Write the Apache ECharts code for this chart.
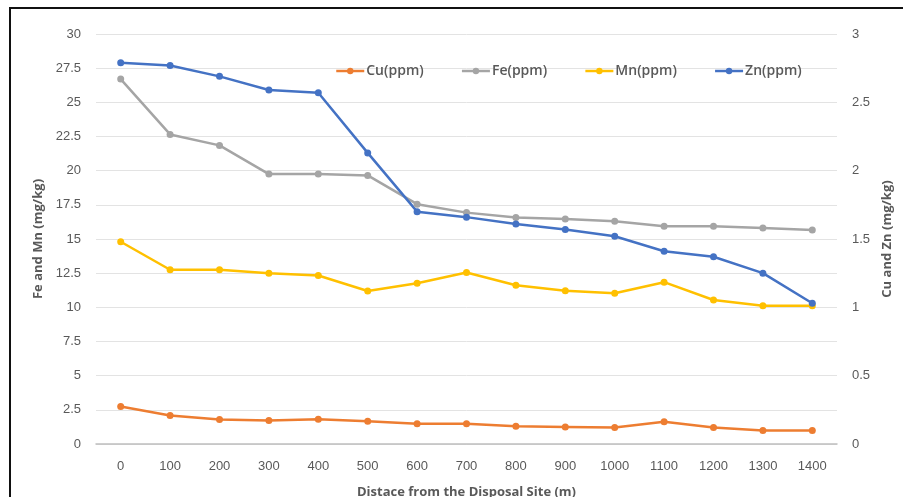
<!DOCTYPE html>
<html>
<head>
<meta charset="utf-8">
<script src="https://cdn.jsdelivr.net/npm/echarts@6/dist/echarts.min.js"></script>
<style>
  html, body { margin: 0; padding: 0; background: #fff; }
  #chart { width: 903px; height: 497px; }
  #frame {
    position: absolute; left: 9px; top: 7px; width: 900px; height: 500px;
    border-left: 2px solid #111; border-top: 2px solid #111;
    pointer-events: none;
  }
</style>
</head>
<body>
<div id="chart"></div>
<div id="frame"></div>
<script>
// Distance from the disposal site (m)
const distances = ['0', '100', '200', '300', '400', '500', '600', '700', '800', '900', '1000', '1100', '1200', '1300', '1400'];

// Right axis (Cu and Zn, mg/kg)
const cu = [0.275, 0.208, 0.180, 0.172, 0.182, 0.167, 0.148, 0.148, 0.130, 0.125, 0.120, 0.163, 0.120, 0.099, 0.098];
const zn = [2.79, 2.77, 2.69, 2.59, 2.57, 2.13, 1.70, 1.66, 1.61, 1.57, 1.52, 1.41, 1.37, 1.25, 1.03];

// Left axis (Fe and Mn, mg/kg)
const fe = [26.7, 22.65, 21.85, 19.75, 19.75, 19.65, 17.55, 16.93, 16.57, 16.47, 16.3, 15.93, 15.93, 15.8, 15.65];
const mn = [14.8, 12.75, 12.75, 12.5, 12.33, 11.2, 11.76, 12.55, 11.62, 11.22, 11.03, 11.84, 10.54, 10.12, 10.12];

const seriesNames = ['Cu(ppm)', 'Fe(ppm)', 'Mn(ppm)', 'Zn(ppm)'];
const colors = ['#ED7D31', '#A5A5A5', '#FFC000', '#4472C4'];

const font = '"Liberation Sans", "Open Sans", sans-serif';
const titleFont = '"Open Sans", "Liberation Sans", sans-serif';
const textColor = '#595959';

function lineSeries(name, data, axisIndex, color) {
  return {
    name: name,
    type: 'line',
    yAxisIndex: axisIndex,
    data: data,
    symbol: 'circle',
    symbolSize: 7,
    lineStyle: { width: 2.5, color: color },
    itemStyle: { color: color },
    animation: false
  };
}

const chart = echarts.init(document.getElementById('chart'), null, { renderer: 'canvas' });
chart.setOption({
  animation: false,
  color: colors,
  grid: { left: 96, right: 66, top: 34, bottom: 53, outerBoundsMode: 'none', containLabel: false },
  legend: {
    top: 64,
    left: 335,
    padding: 0,
    itemWidth: 28,
    itemHeight: 8,
    itemGap: 37,
    lineStyle: { width: 2.5 },
    textStyle: { fontFamily: titleFont, fontSize: 14, fontWeight: 600, color: textColor, padding: [0, 0, 0, -3] },
    data: seriesNames
  },
  xAxis: {
    type: 'category',
    data: distances,
    boundaryGap: true,
    axisLine: { lineStyle: { color: '#BFBFBF', width: 1.5 } },
    axisTick: { show: false },
    axisLabel: { fontFamily: font, fontSize: 13, color: textColor, margin: 16 },
    name: 'Distace from the Disposal Site (m)',
    nameLocation: 'middle',
    nameGap: 42,
    nameTextStyle: { fontFamily: titleFont, fontSize: 13, fontWeight: 'bold', color: textColor }
  },
  yAxis: [
    {
      type: 'value',
      min: 0, max: 30, interval: 2.5,
      axisLine: { show: false },
      axisTick: { show: false },
      splitLine: { lineStyle: { color: '#E3E3E3', width: 1 } },
      axisLabel: { fontFamily: font, fontSize: 13, color: textColor, margin: 15 },
      name: 'Fe and Mn (mg/kg)',
      nameLocation: 'middle',
      nameGap: 47,
      nameRotate: 90,
      nameTextStyle: { fontFamily: titleFont, fontSize: 13, fontWeight: 'bold', color: textColor }
    },
    {
      type: 'value',
      min: 0, max: 3, interval: 0.5,
      axisLine: { show: false },
      axisTick: { show: false },
      splitLine: { show: false },
      axisLabel: { fontFamily: font, fontSize: 13, color: textColor, margin: 15 },
      name: 'Cu and Zn (mg/kg)',
      nameLocation: 'middle',
      nameGap: 44,
      nameRotate: 90,
      nameTextStyle: { fontFamily: titleFont, fontSize: 13, fontWeight: 'bold', color: textColor }
    }
  ],
  series: [
    lineSeries(seriesNames[0], cu, 1, colors[0]),
    lineSeries(seriesNames[1], fe, 0, colors[1]),
    lineSeries(seriesNames[2], mn, 0, colors[2]),
    lineSeries(seriesNames[3], zn, 1, colors[3])
  ]
});
</script>
</body>
</html>
